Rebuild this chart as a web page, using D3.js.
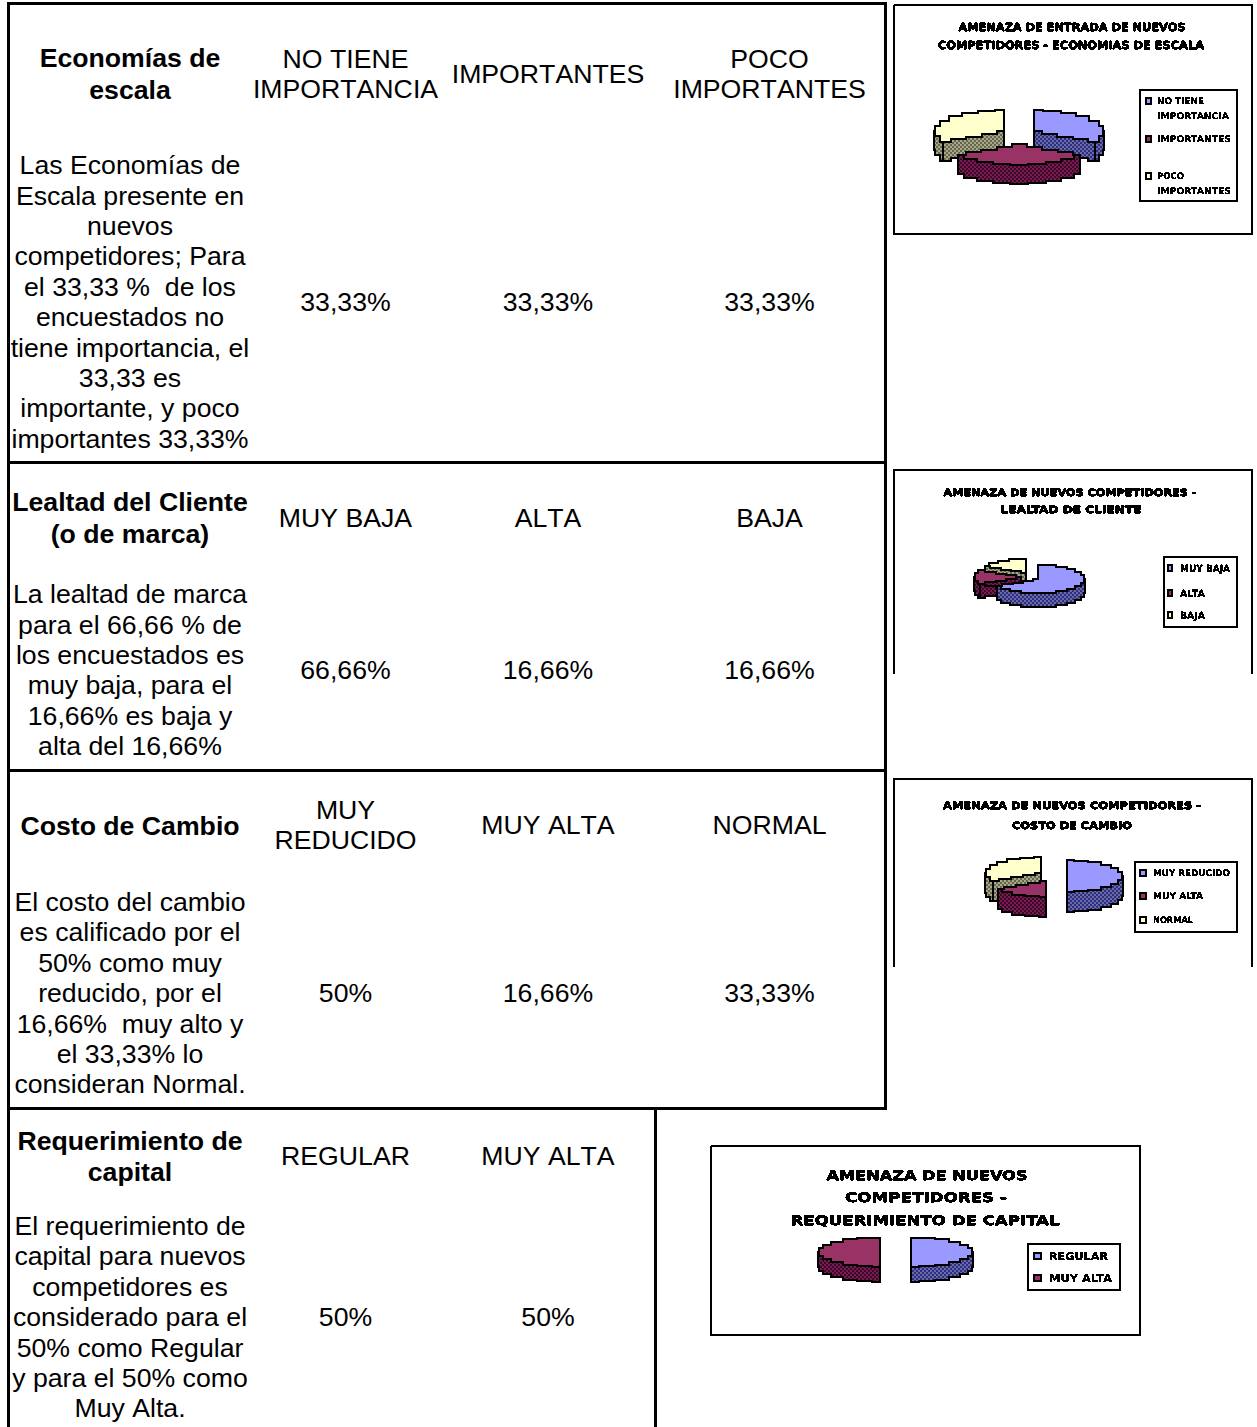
<!DOCTYPE html>
<html><head><meta charset="utf-8">
<script src="https://d3js.org/d3.v7.min.js"></script>
<style>html,body{margin:0;padding:0;background:#fff}svg{display:block}</style>
</head><body><svg id="c" width="1257" height="1427"></svg>
<script>
// ---------- data ----------
const headers1 = ["Economías de","escala"];
const options1 = [["NO TIENE","IMPORTANCIA"],["IMPORTANTES"],["POCO","IMPORTANTES"]];
const text1 = ["Las Economías de","Escala presente en","nuevos","competidores; Para","el 33,33 %  de los","encuestados no","tiene importancia, el","33,33 es","importante, y poco","importantes 33,33%"];
const pct1 = ["33,33%","33,33%","33,33%"];
const headers2 = ["Lealtad del Cliente","(o de marca)"];
const options2 = [["MUY BAJA"],["ALTA"],["BAJA"]];
const text2 = ["La lealtad de marca","para el 66,66 % de","los encuestados es","muy baja, para el","16,66% es baja y","alta del 16,66%"];
const pct2 = ["66,66%","16,66%","16,66%"];
const headers3 = ["Costo de Cambio"];
const options3 = [["MUY","REDUCIDO"],["MUY ALTA"],["NORMAL"]];
const text3 = ["El costo del cambio","es calificado por el","50% como muy","reducido, por el","16,66%  muy alto y","el 33,33% lo","consideran Normal."];
const pct3 = ["50%","16,66%","33,33%"];
const headers4 = ["Requerimiento de","capital"];
const options4 = [["REGULAR"],["MUY ALTA"]];
const text4 = ["El requerimiento de","capital para nuevos","competidores es","considerado para el","50% como Regular","y para el 50% como","Muy Alta."];
const pct4 = ["50%","50%"];

const pieValues1 = [33.33,33.33,33.33];
const pieValues2 = [66.66,16.66,16.66];
const pieValues3 = [50,16.66,33.33];
const pieValues4 = [50,50];
const title1 = ["AMENAZA DE ENTRADA DE NUEVOS","COMPETIDORES - ECONOMIAS DE ESCALA"];
const title2 = ["AMENAZA DE NUEVOS COMPETIDORES -","LEALTAD DE CLIENTE"];
const title3 = ["AMENAZA DE NUEVOS COMPETIDORES -","COSTO DE CAMBIO"];
const title4 = ["AMENAZA DE NUEVOS","COMPETIDORES -","REQUERIMIENTO DE CAPITAL"];
const legend1 = [["NO TIENE","IMPORTANCIA"],["IMPORTANTES"],["POCO","IMPORTANTES"]];
const legend2 = [["MUY BAJA"],["ALTA"],["BAJA"]];
const legend3 = [["MUY REDUCIDO"],["MUY ALTA"],["NORMAL"]];
const legend4 = [["REGULAR"],["MUY ALTA"]];
const sliceColors = ["#9999FF","#993366","#FFFFCC"];
const sideDark = ["#2e2e80","#3a0a2a","#66664f"];
const sideLight = ["#6a6aa6","#7a1a50","#a8a888"];

// ---------- layout ----------
const svg = d3.select("#c");
svg.append("rect").attr("width",1257).attr("height",1427).attr("fill","#fff");
const defs = svg.append("defs");
const f = defs.append("filter").attr("id","pix").attr("x","-5%").attr("y","-30%").attr("width","110%").attr("height","160%");
f.append("feComponentTransfer").append("feFuncA").attr("type","discrete").attr("tableValues","0 1 1 1");
sliceColors.forEach((c,i)=>{
  const p = defs.append("pattern").attr("id","side"+i).attr("width",4).attr("height",4).attr("patternUnits","userSpaceOnUse");
  p.append("rect").attr("width",4).attr("height",4).attr("fill",sideDark[i]);
  p.append("rect").attr("width",2).attr("height",2).attr("fill",sideLight[i]);
  p.append("rect").attr("x",2).attr("y",2).attr("width",2).attr("height",2).attr("fill",sideLight[i]);
});

const colX = [130,345.5,548,769.5];
const LH = 30.4;
const table = svg.append("g").attr("font-family","'Liberation Sans',Arial,sans-serif").attr("font-size","26.67px").attr("text-anchor","middle").attr("fill","#000").style("font-kerning","none");
function put(x,y,s,bold){
  table.append("text").attr("x",x).attr("y",Math.round(y+9.2)).attr("font-weight",bold?"bold":"normal").style("white-space","pre").text(s);
}
function row(headers,headY,headStep,options,optY,text,textY,pcts,pctY){
  headers.forEach((s,i)=>put(colX[0],headY+i*headStep,s,true));
  options.forEach((o,c)=>{
    const y0 = optY-(o.length-1)*15;
    o.forEach((s,i)=>put(colX[c+1],y0+i*30,s,false));
  });
  text.forEach((s,i)=>put(colX[0],textY+i*LH,s,false));
  pcts.forEach((s,c)=>put(colX[c+1],pctY,s,false));
}
row(headers1,58,32,options1,74,text1,165,pct1,302);
row(headers2,502,32,options2,518,text2,594,pct2,670);
row(headers3,826,32,options3,825,text3,901.8,pct3,993);
row(headers4,1141,31,options4,1156,text4,1225.8,pct4,1317);

const rules = [[7,3.5,887,3.5],[8.5,2,8.5,1427],[885.5,2,885.5,1110],[7,462.5,887,462.5],[7,770.5,887,770.5],[7,1108.5,887,1108.5],[655.5,1108,655.5,1427]];
svg.append("g").selectAll("line").data(rules).join("line")
  .attr("x1",d=>d[0]).attr("y1",d=>d[1]).attr("x2",d=>d[2]).attr("y2",d=>d[3])
  .attr("stroke","#000").attr("stroke-width",3).attr("shape-rendering","crispEdges");

// ---------- pies ----------
const pieGen = d3.pie().sort(null).value(d=>d).startAngle(0).endAngle(2*Math.PI);
const lineGen = d3.line();
// blocky outline, like the low-resolution original
function stair(pts){
  const out=[pts[0]];
  for(let i=1;i<pts.length;i++){
    const mx=Math.round((pts[i][0]+pts[i-1][0])/2);
    out.push([mx,pts[i-1][1]]);
    out.push([mx,pts[i][1]]);
    out.push(pts[i]);
  }
  return out;
}
function seg(a,b,n){ return d3.range(0,n+1).map(k=>[a[0]+(b[0]-a[0])*k/n,a[1]+(b[1]-a[1])*k/n].map(Math.round)); }
function drawChart(o){
  const g = svg.append("g");
  const b=o.box;
  const framePts = o.open ? [[b[0],b[3]],[b[0],b[1]],[b[2],b[1]],[b[2],b[3]]] : [[b[0],b[1]],[b[2],b[1]],[b[2],b[3]],[b[0],b[3]],[b[0],b[1]]];
  g.append("path").attr("d",lineGen(framePts)).attr("fill","none").attr("stroke","#000").attr("stroke-width",2).attr("shape-rendering","crispEdges");
  const tg = g.append("g").attr("filter","url(#pix)").attr("font-family","'DejaVu Sans',sans-serif").attr("font-weight","bold").attr("fill","#000").attr("stroke","#000").attr("stroke-width",o.tsw).style("text-rendering","geometricPrecision");
  o.title.forEach((s,i)=>{
    tg.append("text").attr("x",o.tx[i]).attr("y",o.ty[i]+o.tfs*0.365).attr("font-size",o.tfs).attr("text-anchor","middle")
      .attr("textLength",o.tw[i]).attr("lengthAdjust","spacingAndGlyphs").text(s);
  });
  const arcs = pieGen(o.values).map((d,i)=>({...d,i,mid:(d.startAngle+d.endAngle)/2}));
  const order = arcs.slice().sort((a,b)=>Math.cos(b.mid)-Math.cos(a.mid));
  order.forEach(d=>{
    const ax = Math.round(o.cx + o.e*Math.sin(d.mid));
    const ay = Math.round(o.cy - o.e*o.ky*Math.cos(d.mid));
    const pt = a=>[Math.round(ax+o.rx*Math.sin(a)), Math.round(ay-o.ry*Math.cos(a))];
    const dn = p=>[p[0],p[1]+o.depth];
    const step = Math.PI/12;
    const angs = d3.range(d.startAngle,d.endAngle-1e-6,step).concat([d.endAngle]);
    const sg = g.append("g").attr("stroke","#000").attr("stroke-width",2).attr("stroke-linejoin","miter").attr("shape-rendering","crispEdges");
    [d.startAngle,d.endAngle].forEach(a=>{
      const s=stair(seg([ax,ay],pt(a),4));
      sg.append("path").attr("d",lineGen(s.concat(s.slice().reverse().map(dn)))+"Z").attr("fill",`url(#side${d.i})`);
    });
    const lo=Math.max(d.startAngle,Math.PI/2), hi=Math.min(d.endAngle,3*Math.PI/2);
    if(hi>lo){
      const ws=stair([lo,...angs.filter(a=>a>lo&&a<hi),hi].map(pt));
      sg.append("path").attr("d",lineGen(ws.concat(ws.slice().reverse().map(dn)))+"Z").attr("fill",`url(#side${d.i})`);
    }
    const top=[...stair(seg([ax,ay],pt(d.startAngle),4)),...stair(angs.map(pt)),...stair(seg(pt(d.endAngle),[ax,ay],4))];
    sg.append("path").attr("d",lineGen(top)+"Z").attr("fill",sliceColors[d.i]);
  });
  const l=o.leg;
  g.append("rect").attr("x",l.box[0]).attr("y",l.box[1]).attr("width",l.box[2]-l.box[0]).attr("height",l.box[3]-l.box[1])
    .attr("fill","#fff").attr("stroke","#000").attr("stroke-width",2).attr("shape-rendering","crispEdges");
  const lg = g.append("g").attr("filter","url(#pix)").attr("font-family","'DejaVu Sans',sans-serif").attr("font-weight","bold").attr("fill","#000").style("text-rendering","geometricPrecision");
  o.legend.forEach((lines,i)=>{
    g.append("rect").attr("x",l.sx).attr("y",l.ys[i][0]-3).attr("width",l.ss).attr("height",6)
      .attr("fill",sliceColors[i]).attr("stroke","#000").attr("stroke-width",2).attr("shape-rendering","crispEdges");
    lines.forEach((s,j)=>{
      lg.append("text").attr("x",l.tx).attr("y",l.ys[i][j]+l.fs*0.365).attr("font-size",l.fs)
        .attr("textLength",l.w[i][j]).attr("lengthAdjust","spacingAndGlyphs").text(s);
    });
  });
}
drawChart({values:pieValues1,title:title1,legend:legend1,box:[894,5,1252,234],
  tx:[1072,1071],ty:[27,45],tw:[227,266],tfs:11,tsw:0.5,
  cx:1019,cy:135,rx:70,ry:21,depth:19,e:17,ky:0.5,
  leg:{box:[1140,90,1237,201],sx:1146,ss:5,tx:1157,fs:9,ys:[[101,116],[139],[176,191]],w:[[47,72],[74],[27,74]]}});
drawChart({values:pieValues2,title:title2,legend:legend2,box:[894,470,1252,674],open:true,
  tx:[1070,1071],ty:[492,509],tw:[253,141],tfs:10,tsw:0.5,
  cx:1030,cy:577,rx:47,ry:14,depth:14,e:9,ky:0.5,
  leg:{box:[1164,557,1237,627],sx:1168,ss:4,tx:1180,fs:10,ys:[[568],[593],[615]],w:[[50],[25],[25]]}});
drawChart({values:pieValues3,title:title3,legend:legend3,box:[894,779,1252,967],open:true,
  tx:[1072,1072],ty:[805,825.5],tw:[258,120],tfs:10,tsw:0.5,
  cx:1053,cy:876,rx:56,ry:16,depth:20,e:14,ky:0.4,
  leg:{box:[1135,862,1237,932],sx:1140,ss:6,tx:1153,fs:9,ys:[[873],[896],[920]],w:[[77],[50],[40]]}});
drawChart({values:pieValues4,title:title4,legend:legend4,box:[711,1146,1140,1335],
  tx:[927,926,925],ty:[1175,1197.5,1220],tw:[201,162,269],tfs:13,tsw:0.3,
  cx:895.5,cy:1252,rx:62,ry:14.5,depth:15,e:15.5,ky:0,
  leg:{box:[1028,1244,1120,1290],sx:1034,ss:7,tx:1049,fs:10.5,ys:[[1256],[1278]],w:[[59],[63]]}});
</script></body></html>
